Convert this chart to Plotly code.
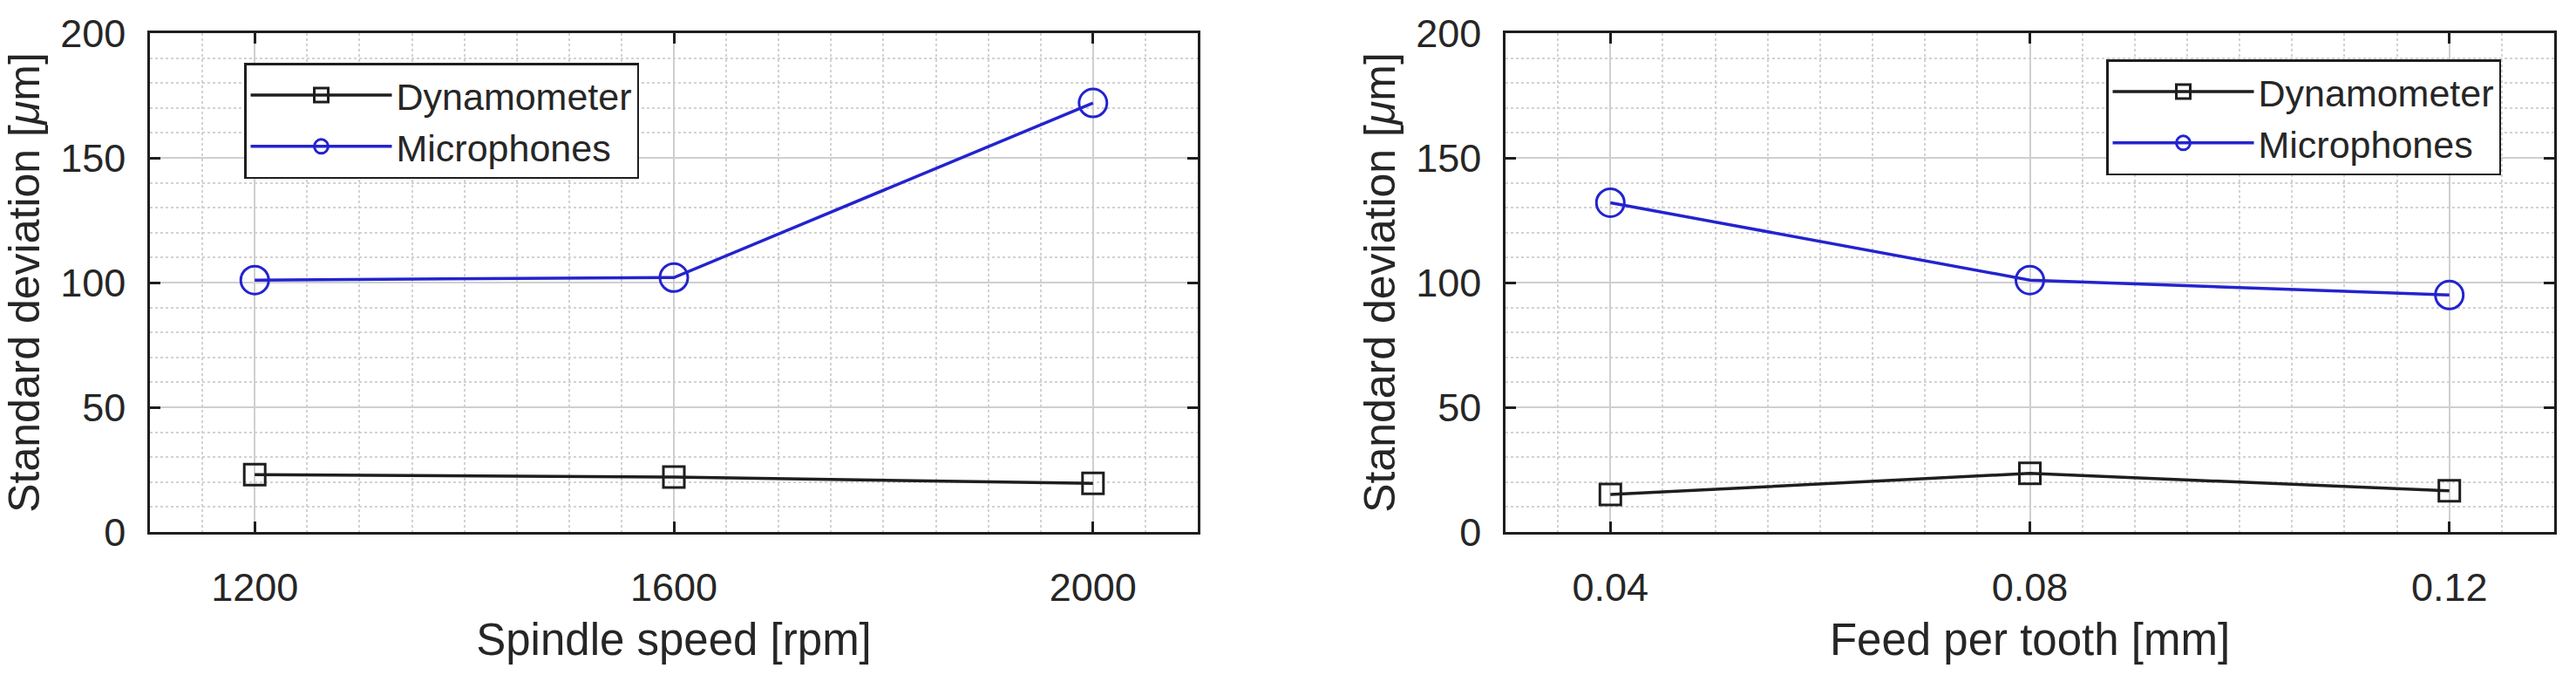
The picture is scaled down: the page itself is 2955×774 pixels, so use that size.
import plotly.graph_objects as go

# ---- data ----
spindle_speed = [1200, 1600, 2000]
dyn_speed = [23, 22, 19.5]
mic_speed = [101, 102, 172]

feed = [0.04, 0.08, 0.12]
dyn_feed = [15, 23.5, 16.5]
mic_feed = [132, 101, 95]

series_names = ["Dynamometer", "Microphones"]
x_titles = ["Spindle speed [rpm]", "Feed per tooth [mm]"]
y_title = "Standard deviation [<i>μ</i>m]"
y_ticks = [0, 50, 100, 150, 200]

W, H = 2955, 774
FONT = "Liberation Sans, Arial, Helvetica, sans-serif"
TXT = "#262626"
BLACK = "#1e1e1e"
BLUE = "#2323cf"

fig = go.Figure()

def add_pair(x, yd, ym, xa, ya, leg):
    fig.add_trace(go.Scatter(
        x=x, y=yd, name=series_names[0], mode="lines+markers",
        line=dict(color=BLACK, width=3.5),
        marker=dict(symbol="square-open", size=24, color=BLACK, line=dict(width=3, color=BLACK)),
        xaxis=xa, yaxis=ya, legend=leg, legendgroup=leg + "a"))
    fig.add_trace(go.Scatter(
        x=x, y=ym, name=series_names[1], mode="lines+markers",
        line=dict(color=BLUE, width=3.5),
        marker=dict(symbol="circle-open", size=32, color=BLUE, line=dict(width=3, color=BLUE)),
        xaxis=xa, yaxis=ya, legend=leg, legendgroup=leg + "b"))

add_pair(spindle_speed, dyn_speed, mic_speed, "x", "y", "legend")
add_pair(feed, dyn_feed, mic_feed, "x2", "y2", "legend2")

y_top = 1 - 38 / H
y_bot = 1 - 610 / H

common_axis = dict(
    showline=True, linecolor=BLACK, linewidth=2.5, mirror="ticks",
    ticks="inside", ticklen=12, tickwidth=2.5, tickcolor=BLACK,
    showgrid=True, gridcolor="#cfcfcf", gridwidth=2,
    zeroline=False, automargin=False,
    tickfont=dict(family=FONT, size=45, color=TXT),
)

def xaxis(domain, rng, tickvals, ticktext, minor_dtick, minor_tick0, title, anchor):
    d = dict(common_axis)
    d.update(domain=domain, range=rng, tickmode="array", tickvals=tickvals, ticktext=ticktext,
             anchor=anchor, ticklabelstandoff=22,
             minor=dict(tick0=minor_tick0, dtick=minor_dtick, showgrid=True, gridcolor="#d2d2d2",
                        griddash="dot", gridwidth=1.5, ticks=""),
             title=dict(text=title, font=dict(family=FONT, size=51, color=TXT), standoff=18))
    return d

def yaxis(domain, anchor):
    d = dict(common_axis)
    d.update(domain=domain, range=[0, 200], tickmode="array", tickvals=y_ticks,
             ticktext=[str(v) for v in y_ticks], anchor=anchor, ticklabelstandoff=16,
             minor=dict(tick0=0, dtick=10, showgrid=True, gridcolor="#d2d2d2",
                        griddash="dot", gridwidth=1.5, ticks=""),
             title=dict(text=y_title, font=dict(family=FONT, size=50, color=TXT), standoff=8))
    return d

leg_common = dict(xanchor="left", yanchor="top", bgcolor="white", bordercolor=BLACK,
                  borderwidth=2.5, font=dict(family=FONT, size=43, color=TXT),
                  itemwidth=162, tracegroupgap=0)

fig.update_layout(
    width=W, height=H,
    margin=dict(l=0, r=0, t=0, b=0, autoexpand=False),
    paper_bgcolor="white", plot_bgcolor="white",
    font=dict(family=FONT, color=TXT),
    xaxis=xaxis([172 / W, 1374 / W], [1100, 2100], spindle_speed,
                [str(v) for v in spindle_speed], 50, 1100, x_titles[0], "y"),
    yaxis=yaxis([y_bot, y_top], "x"),
    xaxis2=xaxis([1727 / W, 2930 / W], [0.03, 0.13], feed,
                 ["%.2f" % v for v in feed], 0.005, 0.03, x_titles[1], "y2"),
    yaxis2=yaxis([y_bot, y_top], "x2"),
    legend=dict(x=280 / W, y=1 - 72 / H, **leg_common),
    legend2=dict(x=2416 / W, y=1 - 68 / H, **leg_common),
    showlegend=True,
)

fig.write_html("out.html", config={"displayModeBar": False},
               post_script="document.body.style.margin='0';document.body.style.overflow='hidden';")
